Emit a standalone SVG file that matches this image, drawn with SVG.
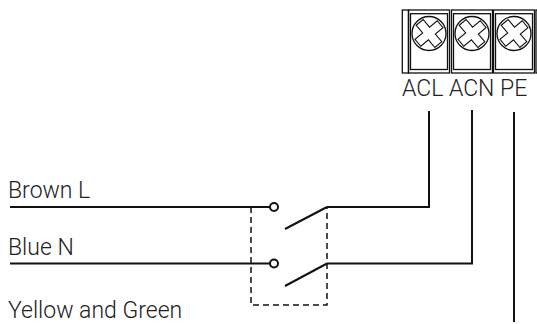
<svg xmlns="http://www.w3.org/2000/svg" width="537" height="324" viewBox="0 0 537 324">
<style>
.w{fill:none;stroke:#111;stroke-width:2}
.t{fill:none;stroke:#111;stroke-width:1.3}
.x{fill:none;stroke:#111;stroke-width:1.1}
.d{fill:none;stroke:#111;stroke-width:1.5;stroke-dasharray:6 4}
.lbl{font-family:Roboto,"Liberation Sans",sans-serif;font-weight:300;font-size:23px;fill:#222}
</style>
<defs>
<g id="cell">
<rect x="-20.5" y="0" width="41" height="63" class="t"/>
<rect x="-18.5" y="3.7" width="37" height="55.8" class="t"/>
<circle cx="0" cy="23.5" r="17" class="t"/>
<polygon class="x" transform="translate(0 23.5) rotate(-40)" points="-4.5,-14.5 4.5,-14.5 4.5,-4.5 14.5,-4.5 14.5,4.5 4.5,4.5 4.5,14.5 -4.5,14.5 -4.5,4.5 -14.5,4.5 -14.5,-4.5 -4.5,-4.5"/>
</g>
</defs>
<g id="terminal">
<rect x="402.3" y="10" width="6.2" height="63" class="t"/>
<use href="#cell" x="429" y="10"/>
<use href="#cell" x="472" y="10"/>
<use href="#cell" x="514" y="10"/>
<rect x="536" y="10" width="20" height="63" class="t"/>
<text class="lbl" x="402" y="96">ACL ACN PE</text>
</g>
<g id="switch">
<circle cx="274" cy="207" r="4" class="w" fill="#fff"/>
<circle cx="274" cy="263.5" r="4" class="w" fill="#fff"/>
<line x1="285" y1="229" x2="327" y2="207" class="w"/>
<line x1="285" y1="286" x2="327" y2="263.5" class="w"/>
<polyline class="d" points="251,207 251,305 327,305 327,207"/>
</g>
<g id="labels">
<text class="lbl" x="8" y="198">Brown L</text>
<text class="lbl" x="8" y="255">Blue N</text>
<text class="lbl" x="8" y="318">Yellow and Green</text>
</g>
<g id="connectors">
<polyline class="w" points="10,207 270,207"/>
<polyline class="w" points="10,263.5 270,263.5"/>
<polyline class="w" points="327,207 429,207 429,111"/>
<polyline class="w" points="327,263.5 472,263.5 472,110"/>
<polyline class="w" points="514,112 514,322"/>
</g>
</svg>
